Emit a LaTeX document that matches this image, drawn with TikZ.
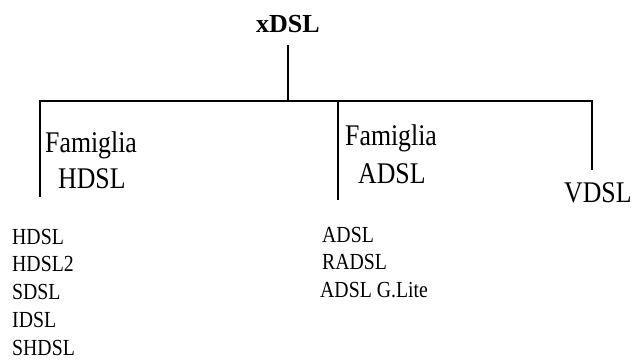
\documentclass[tikz,border=0pt]{standalone}
\usepackage{fontspec}
\setmainfont{Liberation Serif}
\newfontfamily\narrowserif[FakeStretch=0.86]{Liberation Serif}
\usetikzlibrary{positioning}
\tikzset{
  root/.style={inner sep=0pt, anchor=base, font=\fontsize{26}{31}\selectfont\bfseries},
  family/.style={inner sep=0pt, anchor=base west, font=\narrowserif\fontsize{30}{36}\selectfont},
  member/.style={inner sep=0pt, anchor=base west, text height=16pt, text depth=5pt,
    font=\narrowserif\fontsize{23}{27}\selectfont},
  tree/.style={line width=2.6pt},
}

\begin{document}
\begin{tikzpicture}[x=1pt, y=1pt, node distance=6.5pt]
  \useasboundingbox[fill=white] (0,0) rectangle (640,360);
  % root
  \node[root] (xdsl) at (288,328) {xDSL};
  % bar and legs
  \coordinate (bl) at (40,259);
  \coordinate (bm) at (338,259);
  \coordinate (br) at (592,259);
  \coordinate (hleg) at (40,163);
  \coordinate (aleg) at (338,160);
  \coordinate (vleg) at (592,190);
  % families
  \node[family] (famh) at (45,208) {Famiglia};
  \node[family] (hdslf) at (58,172) {HDSL};
  \node[family] (fama) at (345,215) {Famiglia};
  \node[family] (adslf) at (358,177) {ADSL};
  \node[family] (vdsl) at (564,158) {VDSL};
  % members of HDSL
  \node[member] (hdsl) at (12,116) {HDSL};
  \node[member, below=of hdsl.south west, anchor=north west] (hdsl2) {HDSL2};
  \node[member, below=of hdsl2.south west, anchor=north west] (sdsl) {SDSL};
  \node[member, below=of sdsl.south west, anchor=north west] (idsl) {IDSL};
  \node[member, below=of idsl.south west, anchor=north west] (shdsl) {SHDSL};
  % members of ADSL
  \node[member] (adsl) at (322,118) {ADSL};
  \node[member, below=of adsl.south west, anchor=north west] (radsl) {RADSL};
  \node[member, below=of radsl.south west, anchor=north west, xshift=-2pt] (glite) {ADSL G.Lite};
  % lines
  \draw[tree] ([yshift=-13pt]xdsl.south) -- (xdsl.south |- bm);
  \draw[tree, line join=miter] (hleg) -- (bl) -- (br) -- (vleg);
  \draw[tree] (bm) -- (aleg);
\end{tikzpicture}
\end{document}
